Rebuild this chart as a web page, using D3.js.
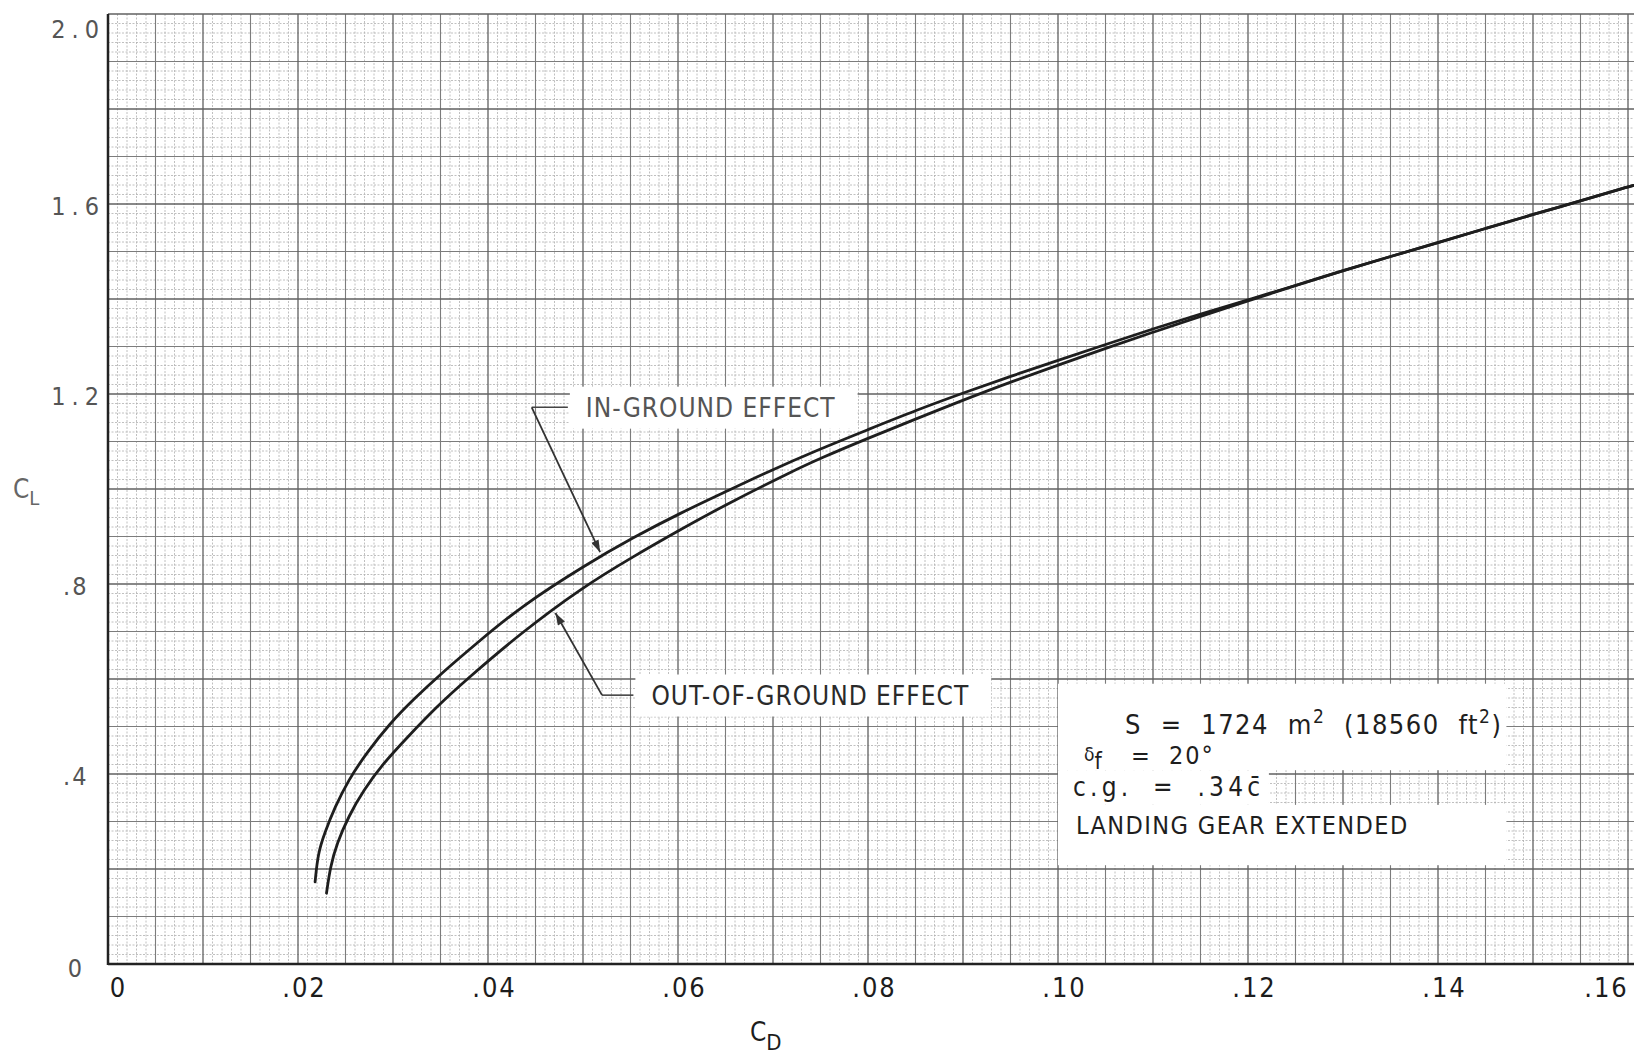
<!DOCTYPE html>
<html>
<head>
<meta charset="utf-8">
<script src="https://cdn.jsdelivr.net/npm/d3@7"></script>
<style>
    html, body { margin: 0; padding: 0; background: #fff; }
    svg { display: block; }
    .typed { font-family: "Liberation Sans Narrow", "DejaVu Sans Condensed", "Roboto Condensed", sans-serif; }
</style>
</head>
<body>
<svg id="chart" width="1634" height="1061"></svg>
<script>
// tick values and their printed labels
const xTicks = [0, 0.02, 0.04, 0.06, 0.08, 0.10, 0.12, 0.14, 0.16];
const xTickLabels = ['0', '.02', '.04', '.06', '.08', '.10', '.12', '.14', '.16'];
const yTicks = [0, 0.4, 0.8, 1.2, 1.6, 2.0];
const yTickLabels = ['0', '.4', '.8', '1.2', '1.6', '2.0'];

// in-ground effect polar
const cdInGround = [0.0218, 0.0221, 0.0228, 0.0239, 0.0253, 0.0272, 0.0297, 0.0321, 0.0351, 0.0388,
    0.0434, 0.0504, 0.0553, 0.0602, 0.0651, 0.0693, 0.0749, 0.0800, 0.0851, 0.0900, 0.0951,
    0.1002, 0.1051, 0.1100, 0.1149, 0.1200, 0.1251, 0.1300, 0.1351, 0.1402, 0.1451, 0.1500, 0.1551, 0.1600, 0.1606];
const clInGround = [0.173, 0.233, 0.276, 0.331, 0.387, 0.444, 0.507, 0.556, 0.612, 0.675,
    0.752, 0.842, 0.898, 0.949, 0.995, 1.035, 1.084, 1.125, 1.166, 1.202, 1.238,
    1.272, 1.305, 1.337, 1.368, 1.398, 1.429, 1.460, 1.490, 1.520, 1.549, 1.578, 1.607, 1.636, 1.639];

// out-of-ground effect polar
const cdOutGround = [0.0230, 0.0234, 0.0241, 0.0253, 0.0269, 0.0290, 0.0314, 0.0346, 0.0378,
    0.0434, 0.0500, 0.0553, 0.0602, 0.0651, 0.0721, 0.0749, 0.0800, 0.0851, 0.0900, 0.0951,
    0.1002, 0.1051, 0.1100, 0.1149, 0.1200, 0.1251, 0.1300, 0.1351, 0.1402, 0.1451, 0.1500, 0.1551, 0.1600, 0.1606];
const clOutGround = [0.149, 0.205, 0.254, 0.310, 0.366, 0.423, 0.475, 0.542, 0.600,
    0.696, 0.794, 0.858, 0.914, 0.968, 1.038, 1.064, 1.107, 1.148, 1.187, 1.226,
    1.262, 1.297, 1.330, 1.363, 1.396, 1.429, 1.460, 1.490, 1.520, 1.549, 1.578, 1.607, 1.636, 1.639];

// curve call-outs: label text, arrow tip and elbow (data units)
const noteText = ['IN-GROUND EFFECT', 'OUT-OF-GROUND EFFECT'];
const noteTip = [[0.0518, 0.867], [0.0471, 0.739]];
const noteElbow = [[0.0446, 1.172], [0.0520, 0.566]];
const noteLabelAt = [[0.0503, 1.172], [0.0572, 0.566]];

class DragPolarChart {
    constructor() {
        this.WIDTH = 1634;
        this.HEIGHT = 1061;
        this.svg = d3.select('#chart');

        this.xScale = d3.scaleLinear()
            .domain([0, 0.16])
            .range([108, 1628]);
        this.yScale = d3.scaleLinear()
            .domain([0, 2.0])
            .range([964, 14]);

        this.inGround = cdInGround.map((cd, i) => ({cd: cd, cl: clInGround[i]}));
        this.outGround = cdOutGround.map((cd, i) => ({cd: cd, cl: clOutGround[i]}));

        this.drawChart();
    }

    drawChart() {
        this.drawGrid();
        this.drawCurves();
        this.drawNotes();
        this.drawInfoBox();
        this.drawAxis();
    }

    drawGrid() {
        // graph paper: 10 divisions per square, a medium line every 5, heavy every 10
        let g = this.svg.append('g').attr('class', 'grid');
        let x = this.xScale, y = this.yScale;
        let xs = d3.range(0, 161);
        let ys = d3.range(0, 101);
        let x0 = x(0), x1 = this.WIDTH, y0 = y(0), y1 = y(2.0);

        let styleOf = i => i % 10 === 0 ? ['#606060', 1.3] : (i % 5 === 0 ? ['#7c7c7c', 1.1] : ['#b0b0b0', 0.8]);

        [0, 5, 10].forEach(level => {
            let pick = i => level === 0 ? i % 5 !== 0 : (level === 5 ? i % 5 === 0 && i % 10 !== 0 : i % 10 === 0);
            g.selectAll('line.v' + level)
                .data(xs.filter(pick))
                .join('line')
                .attr('x1', i => x(i / 1000)).attr('x2', i => x(i / 1000))
                .attr('y1', y1).attr('y2', y0)
                .attr('stroke', i => styleOf(i)[0])
                .attr('stroke-width', i => styleOf(i)[1])
                .attr('stroke-dasharray', level === 0 ? '2,1.5' : null);
            g.selectAll('line.h' + level)
                .data(ys.filter(pick))
                .join('line')
                .attr('x1', x0).attr('x2', x1)
                .attr('y1', j => y(j / 50)).attr('y2', j => y(j / 50))
                .attr('stroke', j => styleOf(j)[0])
                .attr('stroke-width', j => styleOf(j)[1])
                .attr('stroke-dasharray', level === 0 ? '2,1.5' : null);
        });

        // frame: left and bottom edges are heavy
        g.append('line').attr('x1', x0).attr('x2', x0).attr('y1', y1).attr('y2', y0 + 1)
            .attr('stroke', '#222').attr('stroke-width', 2.5);
        g.append('line').attr('x1', x0).attr('x2', x1).attr('y1', y0).attr('y2', y0)
            .attr('stroke', '#222').attr('stroke-width', 2.5);
    }

    drawCurves() {
        let line = d3.line()
            .x(d => this.xScale(d.cd))
            .y(d => this.yScale(d.cl))
            .curve(d3.curveBasis);

        this.svg.append('g').attr('class', 'curves')
            .selectAll('path')
            .data([this.inGround, this.outGround])
            .join('path')
            .attr('d', line)
            .attr('fill', 'none')
            .attr('stroke', '#1e1e1e')
            .attr('stroke-width', 2.8)
            .attr('stroke-linecap', 'round');
    }

    drawNotes() {
        let x = this.xScale, y = this.yScale;
        this.svg.append('defs').append('marker')
            .attr('id', 'tip')
            .attr('viewBox', '0 0 12 8')
            .attr('refX', 12).attr('refY', 4)
            .attr('markerWidth', 13).attr('markerHeight', 8)
            .attr('markerUnits', 'userSpaceOnUse')
            .attr('orient', 'auto')
            .append('path')
            .attr('d', 'M0,0 L12,4 L0,8 Z')
            .attr('fill', '#333');

        let g = this.svg.append('g').attr('class', 'notes');
        noteText.forEach((txt, i) => {
            let lx = x(noteLabelAt[i][0]), ly = y(noteLabelAt[i][1]);
            let ex = x(noteElbow[i][0]), ey = y(noteElbow[i][1]);
            let box = g.append('rect').attr('fill', '#fff');
            let t = g.append('text')
                .attr('class', 'typed')
                .attr('x', lx).attr('y', ly)
                .attr('dy', '0.36em')
                .attr('font-size', 26)
                .attr('letter-spacing', 1)
                .attr('fill', i === 0 ? '#555' : '#2a2a2a')
                .text(txt);
            let bb = t.node().getBBox();
            box.attr('x', bb.x - 16).attr('y', bb.y - 6)
                .attr('width', bb.width + 38).attr('height', bb.height + 12);

            // elbow: short horizontal to the label, then a slanted leader to the curve
            g.append('line')
                .attr('x1', ex).attr('y1', ey).attr('x2', bb.x - 18).attr('y2', ey)
                .attr('stroke', '#444').attr('stroke-width', 1.6);
            g.append('line')
                .attr('x1', ex).attr('y1', ey)
                .attr('x2', x(noteTip[i][0])).attr('y2', y(noteTip[i][1]))
                .attr('stroke', '#333').attr('stroke-width', 1.8)
                .attr('marker-end', 'url(#tip)');
        });
    }

    drawInfoBox() {
        let x = this.xScale, y = this.yScale;
        let left = x(0.1), right = x(0.1472);
        let g = this.svg.append('g').attr('class', 'info');

        // pasted-on labels: two full-width strips and a short one for the c.g. line
        g.append('rect').attr('x', left).attr('y', y(0.59))
            .attr('width', right - left).attr('height', y(0.408) - y(0.59)).attr('fill', '#fff');
        g.append('rect').attr('x', left).attr('y', y(0.408))
            .attr('width', x(0.1222) - left).attr('height', y(0.335) - y(0.408)).attr('fill', '#fff');
        g.append('rect').attr('x', left).attr('y', y(0.335))
            .attr('width', right - left).attr('height', y(0.208) - y(0.335)).attr('fill', '#fff');

        let top = y(0.59);
        let txt = g.append('g').attr('class', 'typed').attr('fill', '#1e1e1e').attr('font-size', 25);

        let s = txt.append('text').attr('x', left + 67).attr('y', top + 50)
            .attr('font-size', 27)
            .attr('letter-spacing', 1.5).attr('word-spacing', 9.5);
        s.append('tspan').text('S = 1724 m');
        s.append('tspan').attr('dy', -11).attr('font-size', 19).text('2');
        s.append('tspan').attr('dy', 11).text(' (18560 ft');
        s.append('tspan').attr('dy', -11).attr('font-size', 19).text('2');
        s.append('tspan').attr('dy', 11).text(')');

        let d = txt.append('text').attr('x', left + 26).attr('y', top + 80);
        d.append('tspan').attr('font-size', 19).attr('dy', -3).text('δ');
        d.append('tspan').attr('font-size', 23).attr('dy', 8).text('f');
        d.append('tspan').attr('x', left + 73).attr('dy', -5)
            .attr('letter-spacing', 2).attr('word-spacing', 8).text('= 20°');

        txt.append('text').attr('x', left + 15).attr('y', top + 112)
            .attr('font-size', 26)
            .attr('letter-spacing', 4.2).attr('word-spacing', 9)
            .text('c.g. = .34c\u0304');
        txt.append('text').attr('x', left + 18).attr('y', top + 150)
            .attr('letter-spacing', 1.4)
            .text('LANDING GEAR EXTENDED');
    }

    drawAxis() {
        let xAxis = d3.axisBottom(this.xScale)
            .tickValues(xTicks)
            .tickFormat((d, i) => xTickLabels[i])
            .tickSize(0)
            .tickPadding(14);
        let gx = this.svg.append('g')
            .attr('transform', `translate(0, ${this.yScale(0)})`)
            .call(xAxis);
        gx.select('.domain').remove();
        gx.selectAll('.tick text')
            .attr('class', 'typed')
            .attr('font-size', 27)
            .attr('letter-spacing', 2)
            .attr('fill', '#1c1c1c')
            .attr('x', (d, i) => i === xTicks.length - 1 ? -22 : (i === 0 ? 10 : 6));

        let yAxis = d3.axisLeft(this.yScale)
            .tickValues(yTicks)
            .tickFormat((d, i) => yTickLabels[i])
            .tickSize(0)
            .tickPadding(8);
        let gy = this.svg.append('g')
            .attr('transform', `translate(${this.xScale(0)}, 0)`)
            .call(yAxis);
        gy.select('.domain').remove();

        // labels line up on the decimal point, like the original lettering
        let kind = i => yTickLabels[i] === '0' ? 'zero' : (yTickLabels[i][0] === '.' ? 'frac' : 'full');
        gy.selectAll('.tick text')
            .attr('class', 'typed')
            .attr('font-size', 25)
            .attr('fill', '#555')
            .attr('letter-spacing', (d, i) => kind(i) === 'full' ? 6 : 2)
            .attr('text-anchor', (d, i) => ({zero: 'middle', frac: 'start', full: 'end'})[kind(i)])
            .attr('x', (d, i) => ({zero: -32, frac: -45, full: -3})[kind(i)])
            .attr('dy', (d, i) => d === 2.0 ? '0.95em' : (d === 0 ? '0.5em' : '0.4em'));

        // axis titles
        let cl = this.svg.append('text').attr('class', 'typed')
            .attr('x', 13).attr('y', 498).attr('fill', '#666').attr('font-size', 26);
        cl.append('tspan').text('C');
        cl.append('tspan').attr('dy', 7).attr('font-size', 20).text('L');

        let cd = this.svg.append('text').attr('class', 'typed')
            .attr('x', 750).attr('y', 1041).attr('fill', '#1c1c1c').attr('font-size', 26);
        cd.append('tspan').text('C');
        cd.append('tspan').attr('dy', 9).attr('font-size', 22).text('D');
    }
}

new DragPolarChart();
</script>
</body>
</html>
